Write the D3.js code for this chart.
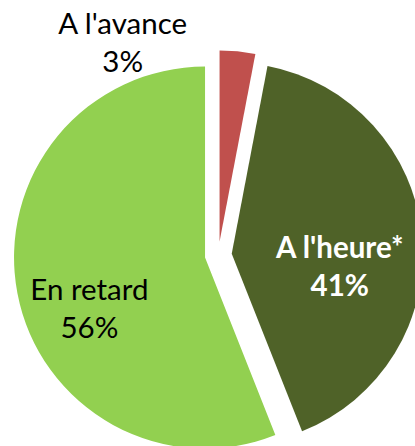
<!DOCTYPE html>
<html>
<head>
<meta charset="utf-8">
<script src="https://cdn.jsdelivr.net/npm/d3@7"></script>
<style>
  body { margin: 0; background: #fff; }
  svg { display: block; }
  text { font-family: Lato, "Open Sans", sans-serif; font-size: 29.5px; }
</style>
</head>
<body>
<svg></svg>
<script>
let categories = ["A l'avance", "A l'heure*", "En retard"];
let values = [3, 41, 56];
let colors = ["#C0504D", "#4F6228", "#92D050"];
let labelColors = ["#000", "#fff", "#000"];
let labelWeights = ["normal", "bold", "normal"];

let width = 415;
let height = 446;
let radius = 191;
let explode = 13.5;
let cx = 218.3;
let cy = 255;

// where each label sits, as angle (deg, clockwise from top) and fraction of radius
let labelAngle = [334, 97, 246];
let labelDist = [1.157, 0.57, 0.663];

let svg = d3.select("svg")
  .attr("width", width)
  .attr("height", height);

let pie = d3.pie().sort(null).value(d => d);
let arcs = pie(values);

let arc = d3.arc().innerRadius(0).outerRadius(radius);

let g = svg.append("g").attr("transform", "translate(" + cx + "," + cy + ")");

let slice = g.selectAll("g.slice")
  .data(arcs)
  .enter()
  .append("g")
  .attr("class", "slice")
  .attr("transform", d => {
    let mid = (d.startAngle + d.endAngle) / 2;
    let p = d3.pointRadial(mid, explode);
    return "translate(" + p[0] + "," + p[1] + ")";
  });

slice.append("path")
  .attr("d", arc)
  .attr("fill", (d, i) => colors[i]);

slice.each(function(d, i) {
  let p = d3.pointRadial(labelAngle[i] * Math.PI / 180, labelDist[i] * radius);
  let t = d3.select(this).append("text")
    .attr("text-anchor", "middle")
    .attr("fill", labelColors[i])
    .attr("font-weight", labelWeights[i]);
  t.append("tspan").attr("x", p[0]).attr("y", p[1] - 9).text(categories[i]);
  t.append("tspan").attr("x", p[0]).attr("y", p[1] + 29).text(values[i] + "%");
});
</script>
</body>
</html>
